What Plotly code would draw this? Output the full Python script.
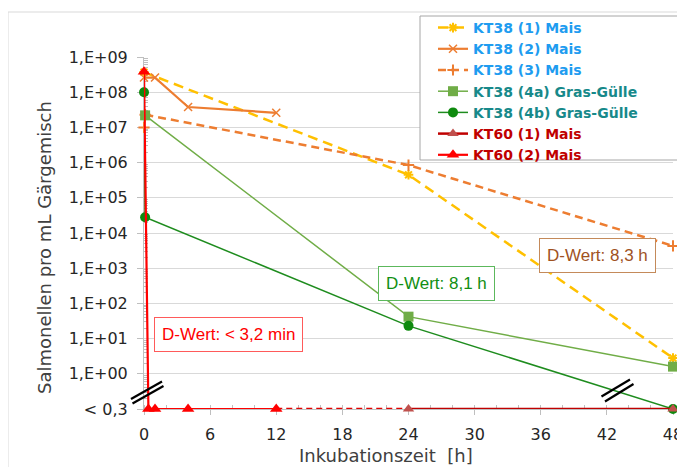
import plotly.graph_objects as go

# ---------------- data ----------------
t_kt38_1 = [0, 24, 48]
v_kt38_1 = [3.7e8, 4.5e5, 2.8]

t_kt38_2 = [0, 1, 4, 12]
v_kt38_2 = [2.6e8, 2.6e8, 3.8e7, 2.6e7]

t_kt38_3 = [0, 0.1, 24, 48]
v_kt38_3 = [1.0e7, 2.3e7, 8.5e5, 4.3e3]

t_kt38_4a = [0.1, 24, 48]
v_kt38_4a = [2.2e7, 42, 1.6]

t_kt38_4b = [0, 0.1, 24, 48]
v_kt38_4b = [1.0e8, 2.8e4, 23, 0.1]

t_kt60_1 = [24, 48]
v_kt60_1 = [0.1, 0.1]
t_kt60_gap = [12, 24]
v_kt60_gap = [0.1, 0.1]

t_kt60_2 = [0, 0.4, 1, 4, 12]
v_kt60_2 = [3.8e8, 0.1, 0.1, 0.1, 0.1]

y_tickvals = [0.1, 1, 1e1, 1e2, 1e3, 1e4, 1e5, 1e6, 1e7, 1e8, 1e9]
y_ticktext = ["< 0,3", "1,E+00", "1,E+01", "1,E+02", "1,E+03", "1,E+04",
              "1,E+05", "1,E+06", "1,E+07", "1,E+08", "1,E+09"]
x_tickvals = [0, 6, 12, 18, 24, 30, 36, 42, 48]

names = ["KT38 (1) Mais", "KT38 (2) Mais", "KT38 (3) Mais",
         "KT38 (4a) Gras-Gülle", "KT38 (4b) Gras-Gülle",
         "KT60 (1) Mais", "KT60 (2) Mais"]
name_colors = ["#1E9CF0", "#1E9CF0", "#1E9CF0", "#17898A", "#17898A", "#C00000", "#C00000"]

# ---------------- layout helpers (page pixel coordinates) ----------------
OFF = 8                      # default body margin of the html page
PAGE_W, PAGE_H = 685, 467
PL, PR, PT, PB = 144, 673, 57, 409   # plot area edges on the page
PW, PH = PR - PL, PB - PT
W, H = PAGE_W - OFF, PAGE_H - OFF


def px(x):
    return (x - PL) / PW


def py(y):
    return (PB - y) / PH


def lname(i):
    return f"<b><span style='color:{name_colors[i]}'>{names[i]}</span></b>"


fig = go.Figure()

fig.add_trace(go.Scatter(x=t_kt38_1, y=v_kt38_1, name=lname(0), mode="lines+markers",
                         line=dict(color="#FFC000", width=2.5, dash="10px,6px"),
                         marker=dict(symbol="asterisk-open", size=8, color="#FFC000",
                                     line=dict(color="#FFC000", width=2)),
                         cliponaxis=False))
fig.add_trace(go.Scatter(x=t_kt38_2, y=v_kt38_2, name=lname(1), mode="lines+markers",
                         line=dict(color="#ED7D31", width=2.2),
                         marker=dict(symbol="x-thin-open", size=8, color="#ED7D31",
                                     line=dict(color="#ED7D31", width=1.5)),
                         cliponaxis=False))
fig.add_trace(go.Scatter(x=t_kt38_3, y=v_kt38_3, name=lname(2), mode="lines+markers",
                         line=dict(color="#ED7D31", width=2.5, dash="8px,5px"),
                         marker=dict(symbol="cross-thin-open", size=8, color="#ED7D31",
                                     line=dict(color="#ED7D31", width=2)),
                         cliponaxis=False))
fig.add_trace(go.Scatter(x=t_kt38_4a, y=v_kt38_4a, name=lname(3), mode="lines+markers",
                         line=dict(color="#70AD47", width=1.5),
                         marker=dict(symbol="square", size=10, color="#70AD47"),
                         cliponaxis=False))
fig.add_trace(go.Scatter(x=t_kt38_4b, y=v_kt38_4b, name=lname(4), mode="lines+markers",
                         line=dict(color="#1E8C1E", width=1.5),
                         marker=dict(symbol="circle", size=10, color="#0E8A0E"),
                         cliponaxis=False))
fig.add_trace(go.Scatter(x=t_kt60_gap, y=v_kt60_gap, mode="lines", showlegend=False,
                         line=dict(color="#E00000", width=2.5, dash="6px,4px"),
                         cliponaxis=False, hoverinfo="skip"))
fig.add_trace(go.Scatter(x=t_kt60_1, y=v_kt60_1, name=lname(5), mode="lines+markers",
                         line=dict(color="#C00000", width=2.5),
                         marker=dict(symbol="triangle-up", size=10, color="#C0504D"),
                         cliponaxis=False))
fig.add_trace(go.Scatter(x=t_kt60_2, y=v_kt60_2, name=lname(6), mode="lines+markers",
                         line=dict(color="#FF0000", width=2.2),
                         marker=dict(symbol="triangle-up", size=11, color="#FF0000"),
                         cliponaxis=False))

shapes = []
# outer chart frame
shapes.append(dict(type="rect", xref="paper", yref="paper",
                   x0=px(8), x1=px(PAGE_W + 20), y0=py(12), y1=py(PAGE_H + 20),
                   line=dict(color="#D9D9D9", width=1), layer="below"))
# legend box
shapes.append(dict(type="rect", xref="paper", yref="paper",
                   x0=px(420), x1=px(681), y0=py(160), y1=py(16),
                   line=dict(color="#A6A6A6", width=1), fillcolor="white", layer="above"))
# axis break marks
for (xa, ya, xb, yb) in [(131, 399, 162, 381.5), (132.5, 403.5, 163.5, 386),
                         (601.5, 396.5, 630, 379.5), (605, 401.5, 633.5, 384)]:
    shapes.append(dict(type="line", xref="paper", yref="paper",
                       x0=px(xa), y0=py(ya), x1=px(xb), y1=py(yb),
                       line=dict(color="black", width=2.2), layer="above"))

annotations = []
box_font = "Liberation Sans, Arial, sans-serif"
common = dict(xref="paper", yref="paper", showarrow=False, xanchor="center", yanchor="middle")
annotations.append(dict(x=px(228.5), y=py(334), text="D-Wert: < 3,2 min",
                        font=dict(family=box_font, size=17, color="#FF0000"),
                        bgcolor="white", bordercolor="#FF5A5A", borderwidth=1, borderpad=7, **common))
annotations.append(dict(x=px(436.5), y=py(283), text="D-Wert: 8,1 h",
                        font=dict(family=box_font, size=17, color="#128F12"),
                        bgcolor="white", bordercolor="#5CB85C", borderwidth=1, borderpad=7, **common))
annotations.append(dict(x=px(597), y=py(255), text="D-Wert: 8,3 h",
                        font=dict(family=box_font, size=17, color="#A0521E"),
                        bgcolor="white", bordercolor="#C48A5A", borderwidth=1, borderpad=7, **common))
# axis titles
annotations.append(dict(x=px(44), y=py(248), text="Salmonellen pro mL Gärgemisch", textangle=-90,
                        font=dict(family="DejaVu Sans", size=18, color="#404040"), **common))
annotations.append(dict(x=px(386), y=py(455), text="Inkubationszeit  [h]",
                        font=dict(family="DejaVu Sans", size=18, color="#404040"), **common))

minor_y = [k * 10 ** d for d in range(-1, 9) for k in range(2, 10)]

fig.update_layout(
    width=W, height=H,
    margin=dict(l=PL - OFF, r=W - (PR - OFF), t=PT - OFF, b=H - (PB - OFF), autoexpand=False),
    paper_bgcolor="white", plot_bgcolor="white",
    font=dict(family="DejaVu Sans", color="#262626"),
    shapes=shapes, annotations=annotations,
    legend=dict(x=px(433), y=py(12), xanchor="left", yanchor="top",
                bgcolor="rgba(0,0,0,0)", borderwidth=0,
                font=dict(family="DejaVu Sans", size=14), tracegroupgap=0,
                itemwidth=30),
    xaxis=dict(range=[0, 48], tickvals=x_tickvals, showgrid=False, zeroline=False,
               showline=True, linecolor="#BFBFBF", linewidth=1, layer="below traces",
               ticks="outside", ticklen=5, tickcolor="#BFBFBF",
               tickfont=dict(family="DejaVu Sans", size=16, color="#262626"),
               ticklabelstandoff=6, automargin=False,
               minor=dict(dtick=2, ticks="inside", ticklen=4, tickcolor="#BFBFBF", showgrid=False)),
    yaxis=dict(type="log", range=[-1, 9], tickvals=y_tickvals, ticktext=y_ticktext,
               showgrid=True, gridcolor="#D9D9D9", gridwidth=1, zeroline=False,
               showline=True, linecolor="#BFBFBF", linewidth=1, layer="below traces",
               ticks="outside", ticklen=6, tickcolor="#BFBFBF",
               tickfont=dict(family="DejaVu Sans", size=16, color="#262626"),
               ticklabelstandoff=6, automargin=False,
               minor=dict(tickvals=minor_y, ticks="inside", ticklen=4, tickcolor="#BFBFBF", showgrid=False)),
    showlegend=True,
)

fig.write_html("out.html")
